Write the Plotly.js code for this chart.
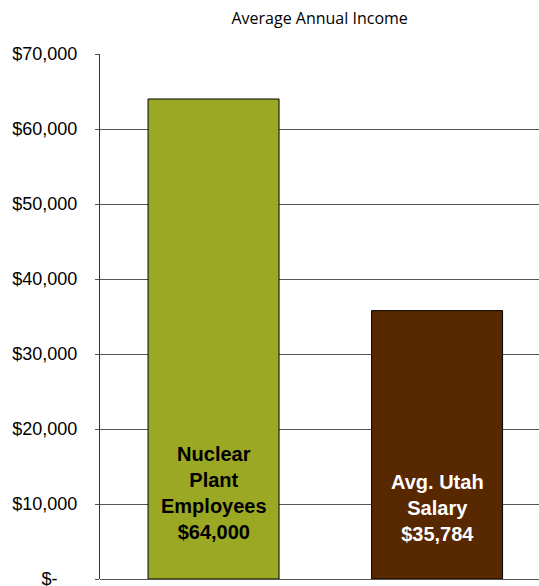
<!DOCTYPE html>
<html><head><meta charset="utf-8">
<script src="https://cdn.plot.ly/plotly-3.0.1.min.js"></script>
<style>html,body{margin:0;padding:0;background:#fff}</style>
</head><body>
<div id="chart" style="width:539px;height:586px"></div>
<script>
const categories = ["Nuclear Plant Employees", "Avg. Utah Salary"];
const incomes = [64000, 35784];
const barLabels = ["Nuclear<br>Plant<br>Employees<br>$64,000", "Avg. Utah<br>Salary<br>$35,784"];
const labelY = [11500, 9500];
const barColors = ["#9BA823", "#582800"];
const labelColors = ["#000000", "#ffffff"];
const tickVals = [0, 10000, 20000, 30000, 40000, 50000, 60000, 70000];
const tickText = ["$-\u00a0\u00a0\u00a0\u00a0", "$10,000", "$20,000", "$30,000", "$40,000", "$50,000", "$60,000", "$70,000"];

const trace = {
  type: "bar",
  x: categories,
  y: incomes,
  width: 0.586,
  marker: {color: barColors, line: {color: "#000", width: 1}},
  hoverinfo: "none"
};

const layout = {
  width: 539, height: 586,
  margin: {l: 100, r: 0, t: 54, b: 7},
  paper_bgcolor: "#fff", plot_bgcolor: "#fff",
  showlegend: false,
  title: {text: "Average Annual Income", x: 0.593, xanchor: "center", y: 0.969, yanchor: "middle",
          font: {family: "Open Sans, Lato, sans-serif", size: 16, color: "#000"}},
  xaxis: {type: "category", range: [-0.508, 1.456], showticklabels: false, ticks: "",
          showgrid: false, zeroline: false, showline: false, fixedrange: true},
  yaxis: {range: [0, 70000], tickvals: tickVals, ticktext: tickText, ticks: "outside", ticklen: 4,
          tickcolor: "#555", tickwidth: 1, ticklabelstandoff: 14, ticklabeloverflow: "allow",
          showgrid: true, gridcolor: "#555", gridwidth: 1,
          showline: true, linecolor: "#333", linewidth: 1,
          zeroline: true, zerolinecolor: "#555", zerolinewidth: 1,
          tickfont: {family: "Liberation Sans, Arial, sans-serif", size: 18, color: "#000"}},
  annotations: categories.map((c, i) => ({
    x: c, y: labelY[i], xref: "x", yref: "y", text: "<b>" + barLabels[i] + "</b>",
    showarrow: false, align: "center",
    font: {family: "Liberation Sans, Arial, sans-serif", size: 20, color: labelColors[i]}
  }))
};

Plotly.newPlot("chart", [trace], layout, {displayModeBar: false, staticPlot: true});
</script>
</body></html>
